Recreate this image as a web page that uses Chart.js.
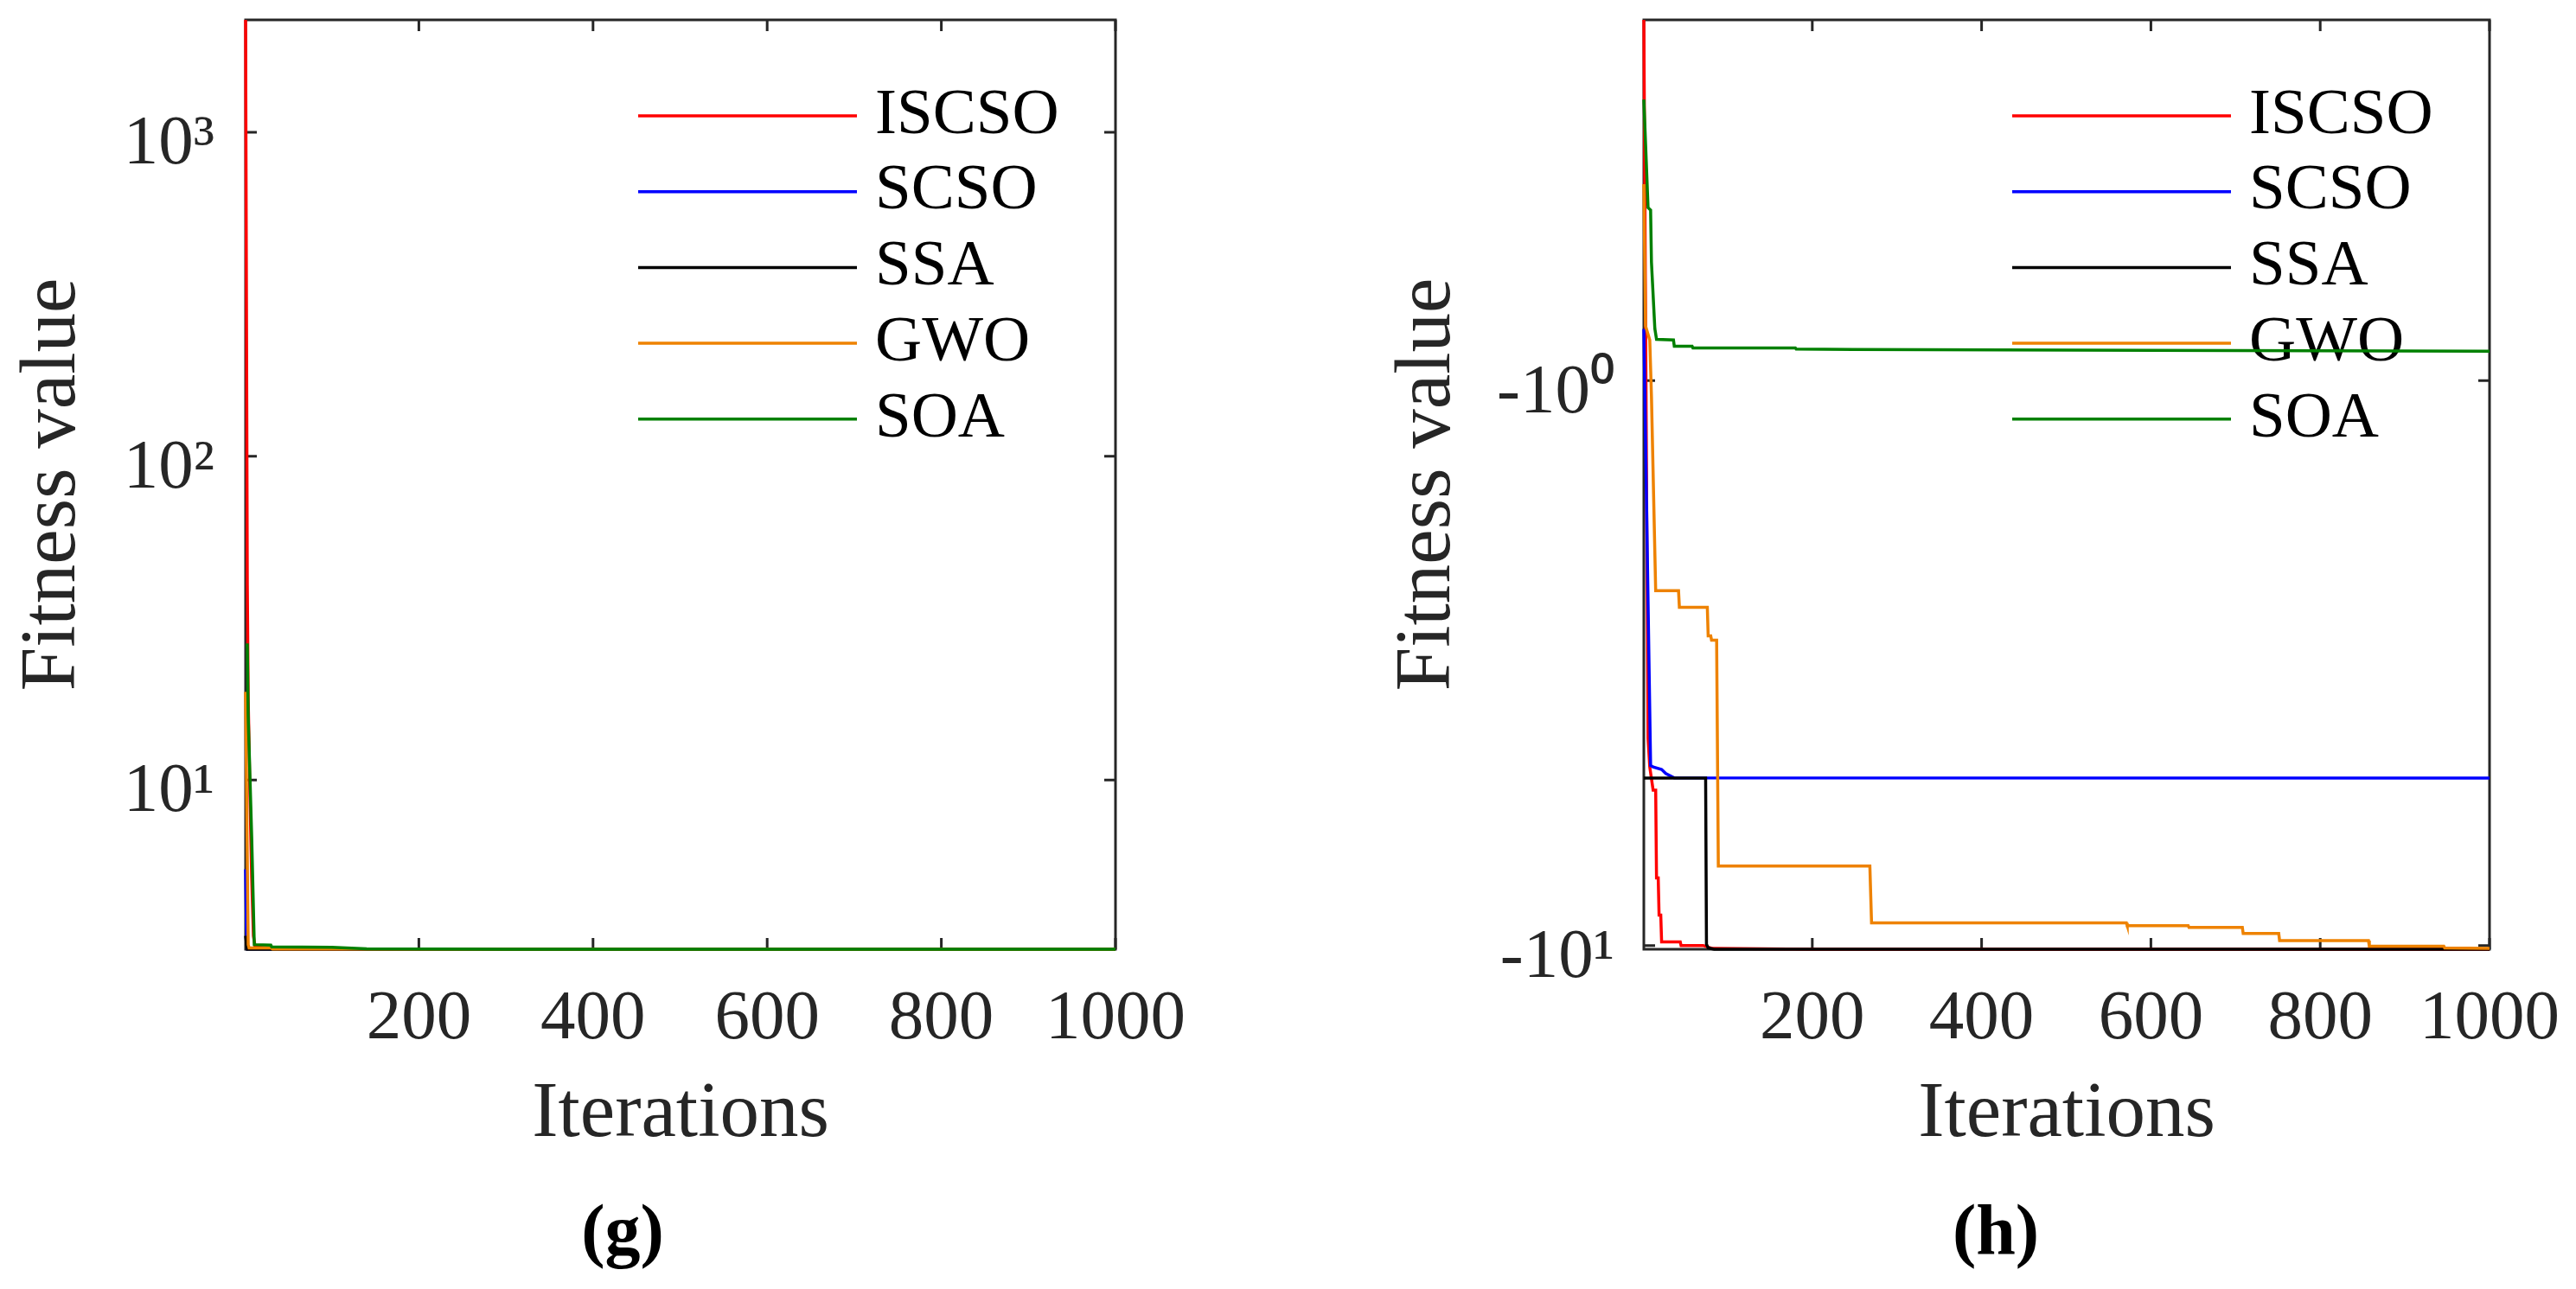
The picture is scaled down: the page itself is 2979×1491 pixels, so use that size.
<!DOCTYPE html>
<html>
<head>
<meta charset="utf-8">
<script src="https://cdn.jsdelivr.net/npm/chart.js@4.4.1/dist/chart.umd.min.js"></script>
<style>
  body { margin: 0; background: #fff; }
  #page { position: relative; width: 2979px; height: 1491px; overflow: hidden; background: #fff; }
  canvas { position: absolute; top: 0; }
  .cap { position: absolute; top: 1423px; font: bold 82px 'Liberation Serif', 'Times New Roman', serif; color: #000; transform: translate(-50%, -50%); white-space: nowrap; }
</style>
</head>
<body>
<div id="page">
  <canvas id="chartG" width="1490" height="1491" style="left:0"></canvas>
  <canvas id="chartH" width="1489" height="1491" style="left:1490px"></canvas>
  <div class="cap" style="left:720px">(g)</div>
  <div class="cap" style="left:2308px">(h)</div>
</div>
<script>
// series names, same order in both panels
const seriesNames = ['ISCSO', 'SCSO', 'SSA', 'GWO', 'SOA'];
const xTickValues = [200, 400, 600, 800, 1000];

// panel (g): iteration / fitness pairs
const gIscsoIter = [1, 2, 3, 4, 6, 8, 10, 12, 40, 1000];
const gIscsoFit  = [2225, 300, 40, 18, 9, 5, 3.3, 3.05, 3.01, 3.0];
const gScsoIter  = [1, 2, 3, 1000];
const gScsoFit   = [5.3, 3.5, 3.01, 3.0];
const gSsaIter   = [1, 3, 1000];
const gSsaFit    = [3.3, 3.0, 3.0];
const gGwoIter   = [1, 4, 5, 30, 32, 1000];
const gGwoFit    = [18.7, 3.1, 3.03, 3.03, 3.005, 3.0];
const gSoaIter   = [1, 3, 4, 8, 11, 30, 31, 100, 140, 300, 1000];
const gSoaFit    = [26.1, 26.1, 15.8, 6.7, 3.1, 3.09, 3.05, 3.04, 3.01, 3.0, 3.0];
const gMajorTicks = [10, 100, 1000];

// panel (h): negative fitness values
const hIscsoIter = [1, 6, 8, 12, 15, 16, 18, 19, 21, 22, 44, 45, 71, 82, 200, 1000];
const hIscsoFit  = [-0.2298, -4.3, -4.83, -5.31, -5.31, -7.59, -7.59, -8.83, -8.83, -9.85, -9.85, -10.0, -10.0, -10.12, -10.15, -10.1532];
const hScsoIter  = [1, 9, 12, 22, 27, 37, 1000];
const hScsoFit   = [-0.81, -4.80, -4.83, -4.88, -4.96, -5.05, -5.0552];
const hSsaIter   = [1, 74, 75, 77, 84, 1000];
const hSsaFit    = [-5.0552, -5.0552, -9.95, -10.1, -10.15, -10.1532];
const hGwoIter   = [1, 3, 8, 10, 15, 42, 43, 76, 77, 80, 81, 87, 89, 268, 270, 571, 572, 644, 645, 708, 709, 751, 752, 857, 858, 946, 947, 1000];
const hGwoFit    = [-0.449, -0.80, -0.847, -1.066, -2.355, -2.355, -2.52, -2.52, -2.83, -2.83, -2.88, -2.88, -7.23, -7.23, -9.12, -9.12, -9.22, -9.22, -9.29, -9.29, -9.52, -9.52, -9.80, -9.80, -10.03, -10.03, -10.1, -10.12];
const hSoaIter   = [1, 6, 9, 10, 14, 16, 36, 37, 58, 59, 180, 181, 248, 600, 1000];
const hSoaFit    = [-0.318, -0.494, -0.499, -0.617, -0.809, -0.845, -0.847, -0.869, -0.869, -0.875, -0.875, -0.879, -0.881, -0.884, -0.887];
const hMajorTicks = [-1, -10];

// styles
const lineColors = ['#ff0000', '#0000ff', '#000000', '#ee8200', '#008000'];
const axisColor = '#262626';
const serif = "'Liberation Serif', 'Times New Roman', serif";
const sup = { '-': '⁻', '0': '⁰', '1': '¹', '2': '²', '3': '³', '4': '⁴' };

function toSup(n) {
    return String(n).split('').map(c => sup[c]).join('');
}

// log ticks: 1..9 x 10^k inside the range, majors flagged
function buildLogTicks(min, max) {
    const ticks = [];
    for (let d = Math.floor(Math.log10(min)); d <= Math.ceil(Math.log10(max)); d++) {
        for (let k = 1; k <= 9; k++) {
            const v = k * Math.pow(10, d);
            if (v >= min && v <= max) ticks.push({ value: v, major: k === 1 });
        }
    }
    return ticks;
}

// box, inward ticks and legend, drawn under the curves like MATLAB does
const matlabAxes = {
    id: 'matlabAxes',
    beforeDatasetsDraw(chart, args, opts) {
        const { ctx, chartArea: a, scales } = chart;
        ctx.save();
        ctx.strokeStyle = axisColor;
        ctx.lineWidth = 3;
        ctx.lineCap = 'butt';
        scales.x.ticks.forEach(t => {
            const px = scales.x.getPixelForValue(t.value);
            ctx.beginPath();
            ctx.moveTo(px, a.bottom); ctx.lineTo(px, a.bottom - 13);
            ctx.moveTo(px, a.top); ctx.lineTo(px, a.top + 13);
            ctx.stroke();
        });
        scales.y.ticks.forEach(t => {
            const py = scales.y.getPixelForValue(t.value);
            const len = t.major ? 13 : 7;
            ctx.beginPath();
            ctx.moveTo(a.left, py); ctx.lineTo(a.left + len, py);
            ctx.moveTo(a.right, py); ctx.lineTo(a.right - len, py);
            ctx.stroke();
        });
        ctx.strokeRect(a.left, a.top, a.right - a.left, a.bottom - a.top);

        // legend (no box), top right inside the axes
        ctx.font = '75px ' + serif;
        ctx.textBaseline = 'middle';
        ctx.textAlign = 'left';
        chart.data.datasets.forEach((ds, i) => {
            const y = a.top + opts.firstRow + i * opts.rowGap;
            ctx.strokeStyle = ds.borderColor;
            ctx.lineWidth = 3.5;
            ctx.beginPath();
            ctx.moveTo(a.right - opts.lineStart, y);
            ctx.lineTo(a.right - opts.lineEnd, y);
            ctx.stroke();
            ctx.fillStyle = '#000';
            ctx.fillText(ds.label, a.right - opts.textStart, y);
        });
        ctx.restore();
    }
};

function makeDatasets(iters, fits, flip) {
    return seriesNames.map((name, i) => ({
        label: name,
        data: iters[i].map((it, j) => ({ x: it, y: flip ? -fits[i][j] : fits[i][j] })),
        borderColor: lineColors[i],
        backgroundColor: lineColors[i],
        borderWidth: 3.5,
        pointRadius: 0,
        tension: 0,
        clip: 4,
        order: seriesNames.length - i
    }));
}

function makeChart(canvasId, datasets, cfg) {
    const all = datasets.flatMap(ds => ds.data.map(p => p.y));
    const yMin = Math.min(...all);
    const yMax = Math.max(...all);
    return new Chart(document.getElementById(canvasId), {
        type: 'line',
        data: { datasets: datasets },
        plugins: [matlabAxes],
        options: {
            responsive: false,
            animation: false,
            devicePixelRatio: 1,
            layout: { autoPadding: false, padding: { left: 0, top: 23, right: cfg.padRight, bottom: 155.5 } },
            plugins: {
                legend: { display: false },
                tooltip: { enabled: false },
                matlabAxes: { lineStart: 552, lineEnd: 299, textStart: 278, firstRow: 111, rowGap: 87.7 }
            },
            scales: {
                x: {
                    type: 'linear',
                    min: 1,
                    max: 1000,
                    afterBuildTicks: s => { s.ticks = xTickValues.map(v => ({ value: v })); },
                    afterFit: s => { s.height = 237.5; s.paddingLeft = 0; s.paddingRight = 0; },
                    grid: { display: false, drawTicks: false },
                    border: { display: false },
                    ticks: {
                        autoSkip: false, maxRotation: 0, padding: 33, color: axisColor,
                        font: { family: serif, size: 81, lineHeight: 1.2 },
                        callback: v => String(v)
                    },
                    title: {
                        display: true, text: 'Iterations', color: axisColor,
                        font: { family: serif, size: 91, lineHeight: 1 },
                        padding: { top: 0, bottom: 0 }
                    }
                },
                y: {
                    type: 'logarithmic',
                    reverse: cfg.reverse,
                    min: yMin,
                    max: yMax,
                    afterBuildTicks: s => { s.ticks = buildLogTicks(yMin, yMax); },
                    afterFit: s => { s.width = cfg.yWidth; s.paddingTop = 0; s.paddingBottom = 0; },
                    grid: { display: false, drawTicks: false },
                    border: { display: false },
                    ticks: {
                        autoSkip: false, padding: cfg.labelPad, labelOffset: 15, color: axisColor,
                        font: { family: serif, size: 81, lineHeight: 1.2 },
                        callback: v => {
                            const hit = cfg.majors.find(m => Math.abs(Math.abs(m) - v) < 1e-9);
                            if (hit === undefined) return null;
                            return (hit < 0 ? '-' : '') + '10' + toSup(Math.round(Math.log10(v)));
                        }
                    },
                    title: {
                        display: true, text: 'Fitness value', color: axisColor,
                        font: { family: serif, size: 91, lineHeight: 1 },
                        padding: { top: cfg.titlePad, bottom: 0 }
                    }
                }
            }
        }
    });
}

makeChart('chartG',
    makeDatasets([gIscsoIter, gScsoIter, gSsaIter, gGwoIter, gSoaIter],
                 [gIscsoFit, gScsoFit, gSsaFit, gGwoFit, gSoaFit], false),
    { reverse: false, majors: gMajorTicks, yWidth: 284, padRight: 200, labelPad: 36, titlePad: 16.5 });

// negative values on a log axis: plot magnitudes on a reversed log scale
makeChart('chartH',
    makeDatasets([hIscsoIter, hScsoIter, hSsaIter, hGwoIter, hSoaIter],
                 [hIscsoFit, hScsoFit, hSsaFit, hGwoFit, hSoaFit], true),
    { reverse: true, majors: hMajorTicks, yWidth: 411, padRight: 100, labelPad: 34, titlePad: 116.5 });
</script>
</body>
</html>
